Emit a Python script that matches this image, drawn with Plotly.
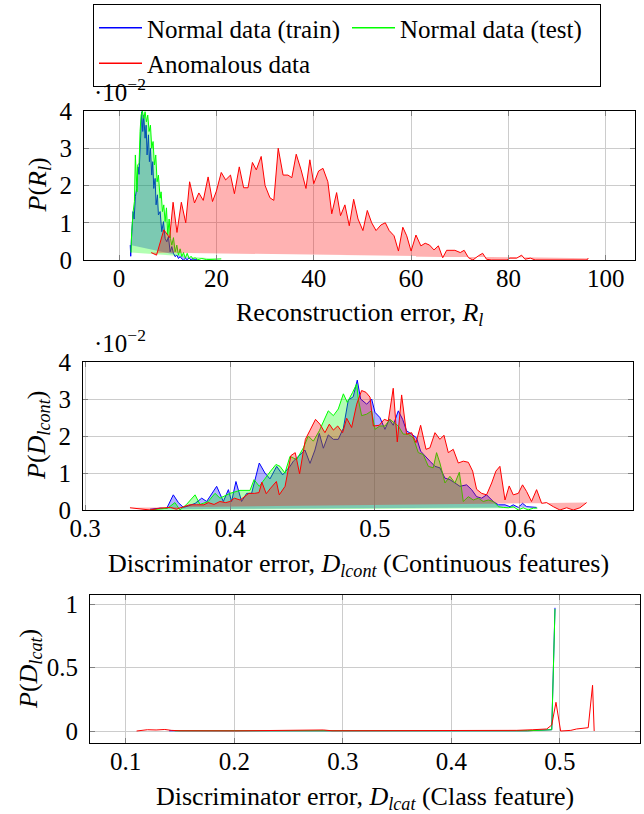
import plotly.graph_objects as go

# ---------------- Panel 1: reconstruction error R_l (values in units of 1e-2) ----------------
rec_train_x = [2.30, 2.40, 2.54, 2.70, 2.88, 3.10, 3.35, 3.64, 3.90, 4.10, 4.32, 4.50, 4.66, 4.87, 5.08,
               5.35, 5.56, 5.76, 6.04, 6.24, 6.45, 6.72, 6.93, 7.13, 7.41, 7.61, 7.89, 8.09, 8.44, 8.78,
               9.12, 9.47, 9.81, 10.15, 10.49, 10.84, 11.18, 11.52, 11.87, 12.21, 12.55, 12.90, 13.24,
               13.6, 14.0, 14.4, 14.8, 15.2, 15.6, 16.0]
rec_train_p = [0.40, 0.10, 0.55, 0.95, 1.30, 1.10, 1.70, 1.92, 2.50, 2.30, 3.09, 3.60, 3.98, 3.45, 3.89,
               3.27, 3.62, 2.82, 3.36, 2.64, 3.00, 2.28, 2.64, 1.92, 2.19, 1.48, 1.75, 1.21, 1.30, 0.76,
               1.03, 0.58, 0.49, 0.63, 0.22, 0.36, 0.18, 0.09, 0.13, 0.04, 0.09, 0.03, 0.00,
               0.04, 0.01, 0.05, 0.00, 0.03, 0.00, 0.02]

rec_test_x = [2.45, 2.60, 2.90, 3.16, 3.35, 3.50, 3.70, 3.84, 4.12, 4.32, 4.53, 4.80, 5.08, 5.35, 5.62,
              5.90, 6.17, 6.45, 6.72, 6.99, 7.27, 7.54, 7.82, 8.09, 8.44, 8.64, 8.92, 9.19, 9.47, 9.74,
              10.01, 10.29, 10.56, 10.84, 11.18, 11.52, 11.87, 12.21, 12.55, 12.90, 13.24, 13.6, 14.0,
              14.4, 14.8, 15.2, 15.6, 16.2, 17.0, 18.0, 19.0, 20.0, 21.0]
rec_test_p = [0.20, 0.76, 1.30, 1.57, 2.82, 2.20, 1.83, 2.55, 2.60, 3.45, 3.89, 4.00, 3.80, 3.98, 3.71,
              3.89, 3.45, 3.62, 3.00, 3.18, 2.55, 2.82, 2.10, 2.28, 1.66, 1.83, 1.30, 1.48, 1.03, 1.40,
              0.67, 1.10, 0.58, 0.40, 0.60, 0.22, 0.40, 0.13, 0.30, 0.09, 0.20, 0.05, 0.18,
              0.04, 0.10, 0.02, 0.06, 0.01, 0.04, 0.01, 0.02, 0.01, 0.03]

rec_anom_x = [6.6, 7.7, 9.2, 10.4, 11.1, 11.9, 12.8, 13.7, 14.5, 15.5, 16.4, 17.3, 18.3, 19.2, 20.0,
              21.0, 21.9, 22.9, 23.7, 24.7, 25.6, 26.5, 27.4, 28.2, 29.2, 30.0, 31.0, 31.8, 32.7, 33.7,
              34.7, 35.5, 36.4, 37.4, 38.4, 39.2, 40.0, 41.0, 41.9, 42.9, 43.7, 44.7, 45.5, 46.4, 47.3,
              48.2, 49.1, 50.1, 51.0, 51.9, 52.8, 53.8, 54.7, 55.5, 56.5, 57.4, 58.3, 59.1, 60.0, 61.0,
              62.0, 62.9, 63.8, 64.7, 65.6, 66.5, 67.3, 68.2, 69.0, 70.1, 70.9, 71.8, 72.7, 73.8, 74.7,
              75.5, 76.5, 79.7, 80.3, 81.7, 82.7, 83.4, 84.5, 85.5, 96.1, 96.4]
rec_anom_p = [0.20, 0.13, 0.81, 0.60, 1.55, 0.74, 1.55, 1.00, 2.10, 1.53, 1.80, 1.60, 2.23, 1.57, 1.85,
              2.35, 2.15, 2.28, 1.78, 2.50, 1.94, 1.94, 2.62, 2.42, 2.78, 2.00, 1.67, 1.60, 3.00, 2.28,
              2.28, 2.21, 2.84, 2.42, 1.92, 2.69, 2.05, 2.39, 2.46, 2.10, 1.24, 1.81, 1.19, 1.48, 0.92,
              1.63, 1.10, 0.79, 1.33, 1.00, 0.79, 0.94, 1.00, 0.79, 0.65, 0.24, 0.88, 0.65, 0.24, 0.67,
              0.38, 0.45, 0.40, 0.27, 0.38, 0.06, 0.26, 0.26, 0.26, 0.20, 0.26, 0.06, 0.00, 0.11, 0.18,
              0.02, 0.00, 0.00, 0.05, 0.05, 0.13, 0.02, 0.05, 0.00, 0.00, 0.05]

# ---------------- Panel 2: discriminator error, continuous features (units of 1e-2) ----------------
cont_train_x = [0.3448, 0.3517, 0.3563, 0.3609, 0.3644, 0.3678, 0.3713, 0.3760, 0.3805, 0.3839, 0.3908,
                0.3954, 0.3989, 0.4011, 0.4041, 0.4080, 0.4115, 0.4149, 0.4202, 0.4241, 0.4276, 0.4322,
                0.4363, 0.4414, 0.4437, 0.4471, 0.4517, 0.4552, 0.4586, 0.4616, 0.4644, 0.4678, 0.4713,
                0.4747, 0.4782, 0.4816, 0.4850, 0.4878, 0.4901, 0.4943, 0.4977, 0.5000, 0.5034, 0.5069,
                0.5099, 0.5126, 0.5161, 0.5191, 0.5218, 0.5253, 0.5287, 0.5315, 0.5352, 0.5379, 0.5414,
                0.5448, 0.5483, 0.5517, 0.5552, 0.5586, 0.5632, 0.5667, 0.5701, 0.5736, 0.5770, 0.5816,
                0.5851, 0.5897, 0.5931, 0.5954, 0.5989, 0.6018, 0.6046, 0.6080, 0.6115]
cont_train_p = [0.02, 0.05, 0.04, 0.41, 0.20, 0.07, 0.11, 0.18, 0.32, 0.23, 0.64,
                0.23, 0.55, 0.23, 0.77, 0.23, 0.45, 0.45, 1.27, 1.00, 0.84, 1.18,
                0.95, 1.18, 1.32, 1.45, 1.62, 1.26, 1.62, 2.07, 1.67, 2.03, 1.91,
                1.91, 2.21, 2.97, 3.06, 3.51, 3.00, 2.86, 3.00, 2.64, 2.50, 2.18,
                2.45, 2.29, 2.68, 2.45, 2.14, 2.05, 1.95, 1.59, 1.45, 1.32, 1.18,
                1.14, 0.86, 0.82, 0.73, 0.64, 0.68, 0.55, 0.36, 0.32, 0.41, 0.23,
                0.14, 0.14, 0.09, 0.14, 0.07, 0.18, 0.09, 0.09, 0.07]

cont_test_x = [0.3450, 0.3520, 0.3570, 0.3620, 0.3655, 0.3700, 0.3759, 0.3793, 0.3850, 0.3897, 0.3931,
               0.4000, 0.4069, 0.4138, 0.4166, 0.4202, 0.4241, 0.4280, 0.4317, 0.4345, 0.4379, 0.4414,
               0.4460, 0.4506, 0.4540, 0.4575, 0.4616, 0.4648, 0.4678, 0.4713, 0.4747, 0.4782, 0.4809,
               0.4846, 0.4874, 0.4885, 0.4908, 0.4943, 0.4977, 0.5000, 0.5034, 0.5069, 0.5103, 0.5161,
               0.5195, 0.5230, 0.5264, 0.5299, 0.5333, 0.5368, 0.5402, 0.5425, 0.5448, 0.5483, 0.5517,
               0.5552, 0.5582, 0.5609, 0.5644, 0.5678, 0.5713, 0.5747, 0.5782, 0.5816, 0.5851, 0.5885,
               0.5920, 0.5954, 0.5989, 0.6023, 0.6057, 0.6092, 0.6120]
cont_test_p = [0.00, 0.03, 0.05, 0.20, 0.00, 0.15, 0.41, 0.15, 0.23, 0.45, 0.32,
               0.45, 0.53, 0.53, 0.82, 0.64, 0.86, 1.05, 1.23, 1.18, 1.00, 1.45,
               1.36, 1.68, 2.00, 1.86, 2.14, 2.41, 2.68, 2.55, 2.73, 3.14, 2.91,
               3.18, 3.41, 3.00, 2.55, 2.59, 2.68, 2.18, 2.27, 2.27, 2.45, 2.27,
               2.05, 2.05, 1.95, 1.55, 1.50, 1.18, 1.14, 1.55, 1.27, 0.73, 0.91,
               0.73, 1.02, 0.23, 0.36, 0.27, 0.32, 0.23, 0.27, 0.23, 0.09, 0.07,
               0.06, 0.09, 0.00, 0.06, 0.00, 0.05, 0.05]

cont_anom_x = [0.331, 0.338, 0.345, 0.352, 0.359, 0.363, 0.368, 0.372, 0.377, 0.382, 0.385, 0.389,
               0.393, 0.397, 0.400, 0.403, 0.407, 0.410, 0.413, 0.417, 0.420, 0.422, 0.425, 0.428,
               0.432, 0.434, 0.438, 0.442, 0.445, 0.448, 0.452, 0.455, 0.459, 0.462, 0.4655, 0.4685,
               0.4713, 0.4743, 0.4777, 0.4805, 0.4839, 0.4874, 0.4908, 0.4938, 0.4966, 0.4989, 0.5030,
               0.5064, 0.5092, 0.5126, 0.5154, 0.5184, 0.5218, 0.5253, 0.5283, 0.5315, 0.5352, 0.5379,
               0.5414, 0.5448, 0.5476, 0.5506, 0.5540, 0.5575, 0.5609, 0.5644, 0.5674, 0.5701, 0.5736,
               0.5770, 0.5805, 0.5834, 0.5862, 0.5897, 0.5926, 0.5954, 0.5989, 0.6018, 0.6046, 0.6080,
               0.6115, 0.6150, 0.6184, 0.6230, 0.6276, 0.6322, 0.6368, 0.6414, 0.6460]
cont_anom_p = [0.06, 0.02, 0.00, 0.05, 0.07, 0.02, 0.09, 0.14, 0.14, 0.14, 0.20, 0.15,
               0.23, 0.20, 0.23, 0.32, 0.27, 0.36, 0.45, 0.45, 0.47, 0.75, 0.44, 0.59,
               0.77, 0.41, 0.64, 1.47, 1.55, 0.98, 1.91, 2.14, 2.45, 2.32, 2.09, 2.32,
               2.16, 2.27, 2.09, 2.48, 2.23, 2.86, 3.23, 3.18, 3.05, 2.27, 2.29,
               2.45, 2.41, 3.29, 1.84, 3.11, 2.05, 2.09, 1.82, 2.29, 1.64, 1.68,
               2.09, 1.91, 2.02, 1.55, 1.64, 1.27, 1.32, 1.29, 1.05, 0.56, 0.45,
               0.41, 0.73, 1.05, 1.18, 0.27, 0.65, 0.41, 0.45, 0.68, 0.50, 0.23,
               0.55, 0.18, 0.20, 0.09, 0.00, 0.06, 0.00, 0.06, 0.20]

# ---------------- Panel 3: discriminator error, class feature ----------------
cat_train_x = [0.140, 0.200, 0.300, 0.400, 0.470, 0.4924, 0.4954]
cat_train_p = [0.002, 0.001, 0.001, 0.001, 0.002, 0.010, 0.970]
cat_test_x = [0.145, 0.200, 0.300, 0.400, 0.470, 0.4924, 0.4954]
cat_test_p = [0.002, 0.001, 0.001, 0.001, 0.002, 0.010, 0.960]
cat_anom_x = [0.110, 0.120, 0.128, 0.136, 0.142, 0.150, 0.200, 0.282, 0.290, 0.400, 0.460, 0.475,
              0.4878, 0.4924, 0.4963, 0.5006, 0.510, 0.5153, 0.526, 0.530, 0.5315]
cat_anom_p = [0.000, 0.010, 0.008, 0.012, 0.005, 0.002, 0.001, 0.008, 0.002, 0.002, 0.005, 0.010,
              0.016, 0.047, 0.226, 0.000, 0.005, 0.016, 0.026, 0.360, 0.000]

series_names = ["Normal data (train)", "Normal data (test)", "Anomalous data"]
line_colors = ["#0000ff", "#00ff00", "#ff0000"]
fill_colors = ["rgba(0,0,255,0.3)", "rgba(0,255,0,0.3)", "rgba(255,0,0,0.3)"]

W, H = 644, 814
FONT = "Liberation Serif"

def px_x(px):
    return px / W

def px_y(py):
    return 1 - py / H

fig = go.Figure()

panels = [
    ("x", "y", [(rec_train_x, rec_train_p), (rec_test_x, rec_test_p), (rec_anom_x, rec_anom_p)], True),
    ("x2", "y2", [(cont_train_x, cont_train_p), (cont_test_x, cont_test_p), (cont_anom_x, cont_anom_p)], True),
    ("x3", "y3", [(cat_train_x, cat_train_p), (cat_test_x, cat_test_p), (cat_anom_x, cat_anom_p)], False),
]

for xa, ya, data, filled in panels:
    for i, (xs, ys) in enumerate(data):
        fig.add_trace(go.Scatter(
            x=xs, y=ys, xaxis=xa, yaxis=ya, mode="lines",
            line=dict(color=line_colors[i], width=1),
            fill="toself" if filled else None,
            fillcolor=fill_colors[i] if filled else None,
            showlegend=False, hoverinfo="skip",
        ))

# legend entries (lines only)
for i, name in enumerate(series_names):
    fig.add_trace(go.Scatter(x=[None], y=[None], mode="lines", name=name,
                             line=dict(color=line_colors[i], width=1.5), showlegend=True))

tfont = dict(family=FONT, size=25, color="black")
axis_common = dict(
    showline=True, linecolor="black", linewidth=1, mirror="ticks",
    ticks="inside", ticklen=5, tickcolor="#808080", tickwidth=1,
    showgrid=True, gridcolor="#cccccc", gridwidth=1, zeroline=False,
    tickfont=tfont, automargin=False,
)

fig.update_layout(
    width=W, height=H, margin=dict(l=0, r=0, t=0, b=0),
    paper_bgcolor="white", plot_bgcolor="white",
    font=dict(family=FONT, size=25, color="black"),
    xaxis=dict(domain=[px_x(84), px_x(635)], range=[-7.2, 106], tick0=0, dtick=20, anchor="y",
               ticklabelstandoff=-4, **axis_common),
    yaxis=dict(domain=[px_y(260), px_y(111)], range=[0, 4], tick0=0, dtick=1, anchor="x", ticklabelstandoff=6, **axis_common),
    xaxis2=dict(domain=[px_x(83), px_x(633)], range=[0.2986, 0.678], tick0=0.3, dtick=0.1, tickformat=".1f", anchor="y2",
                ticklabelstandoff=-4, **axis_common),
    yaxis2=dict(domain=[px_y(510), px_y(362)], range=[0, 4], tick0=0, dtick=1, anchor="x2", ticklabelstandoff=6, **axis_common),
    xaxis3=dict(domain=[px_x(90), px_x(640)], range=[0.0671, 0.5737], tick0=0.1, dtick=0.1, tickformat=".1f", anchor="y3",
                ticklabelstandoff=-4, **axis_common),
    yaxis3=dict(domain=[px_y(743), px_y(595)], range=[-0.0945, 1.071], tickvals=[0, 0.5, 1], ticktext=["0", "0.5", "1"], anchor="x3", ticklabelstandoff=6, **axis_common),
    legend=dict(
        x=px_x(93), y=px_y(4), xanchor="left", yanchor="top", orientation="h",
        bordercolor="black", borderwidth=1, bgcolor="white", itemwidth=43,
        font=dict(family=FONT, size=25, color="black"), entrywidth=195, tracegroupgap=0,
    ),
)

ann = []
# x axis titles
ann.append(dict(text="Reconstruction error, <i>R</i><sub><i>l</i></sub>", x=px_x(359.5), y=px_y(314)))
ann.append(dict(text="Discriminator error, <i>D</i><sub><i>lcont</i></sub> (Continuous features)", x=px_x(358), y=px_y(565)))
ann.append(dict(text="Discriminator error, <i>D</i><sub><i>lcat</i></sub> (Class feature)", x=px_x(365), y=px_y(798)))
for a in ann:
    a.update(xref="paper", yref="paper", showarrow=False, xanchor="center", yanchor="middle",
             font=dict(family=FONT, size=26, color="black"))
# y axis titles
yt = [
    ("<i>P</i>(<i>R</i><sub><i>l</i></sub>)", 38, 185.5),
    ("<i>P</i>(<i>D</i><sub><i>lcont</i></sub>)", 38, 436),
    ("<i>P</i>(<i>D</i><sub><i>lcat</i></sub>)", 30, 669),
]
for t, xx, yy in yt:
    ann.append(dict(text=t, x=px_x(xx), y=px_y(yy), xref="paper", yref="paper", showarrow=False,
                    textangle=-90, xanchor="center", yanchor="middle",
                    font=dict(family=FONT, size=26, color="black")))
# scale multipliers
for ytop in (111, 362):
    ann.append(dict(text="·10<sup>−2</sup>", x=px_x(92), y=px_y(ytop - 21), xref="paper", yref="paper",
                    showarrow=False, xanchor="left", yanchor="middle",
                    font=dict(family=FONT, size=25, color="black")))
fig.update_layout(annotations=ann)

fig.write_html("out.html")
